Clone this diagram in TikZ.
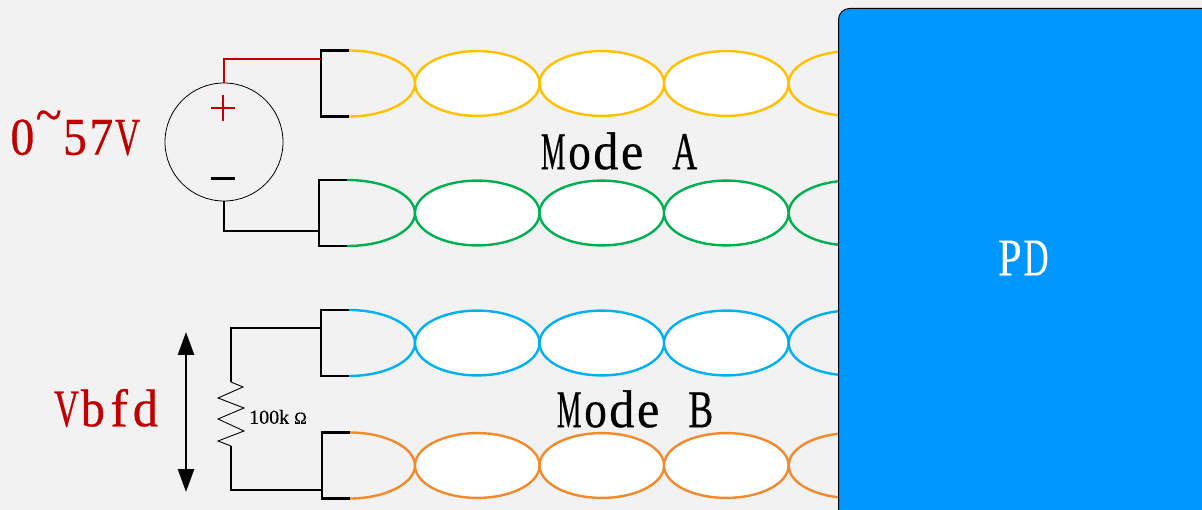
\documentclass[tikz,border=0pt]{standalone}
\usepackage{graphicx}
\usepackage{fontspec}
\setmainfont{Liberation Serif}
\newfontfamily\heavy{Liberation Serif}[FakeBold=0.6]
\newfontfamily\semiheavy{Liberation Serif}[FakeBold=0.35]
\usetikzlibrary{arrows.meta}
\definecolor{bgc}{HTML}{F2F2F2}
\definecolor{redc}{HTML}{C00000}
\definecolor{pdblue}{HTML}{0096FF}
\definecolor{cyellow}{HTML}{FFC000}
\definecolor{cgreen}{HTML}{00B050}
\definecolor{cblue}{HTML}{00B0F0}
\definecolor{corange}{HTML}{F28A2C}
\newcommand{\gl}[2]{\makebox[26.3pt][c]{\scalebox{#1}[1]{#2}}}
\tikzset{
  wire/.style={line width=2.7pt,black,line cap=butt,line join=miter},
  redwire/.style={line width=2.9pt,redc,line join=miter},
  thinline/.style={line width=0.9pt,black,line join=miter},
  strand/.style={line width=2.4pt},
  bigt/.style={inner sep=0pt,font=\heavy\fontsize{53}{53}\selectfont},
  redt/.style={bigt,text=redc},
}
\newcommand{\twisted}[5]{% name, color, y-centre, bracket x, half height
  \coordinate (#1t) at (#4+28,#3-#5);
  \coordinate (#1b) at (#4+28,#3+#5);
  \coordinate (#1ct) at (#4,#3-#5);
  \coordinate (#1cb) at (#4,#3+#5);
  \coordinate (#1x) at (415,#3);
  \draw[strand,#2] (#1t) .. controls (385,#3-#5) and (415,#3-18) .. (#1x) .. controls (415,#3+18) and (385,#3+#5) .. (#1b);
  \foreach \cx in {477.3,601.8,726.3}{
    \draw[strand,#2,fill=white] (\cx,#3) ellipse [x radius=62.3,y radius=32.4];
  }
  \draw[strand,#2] (851,#3) ellipse [x radius=62.3,y radius=32.4];
  \draw[wire] (#1t) -- (#1ct) -- (#1cb) -- (#1b);
}
\begin{document}
\begin{tikzpicture}[x=1pt,y=-1pt]
\useasboundingbox (0,0) rectangle (1202,510);
\fill[bgc] (0,0) rectangle (1202,510);

\twisted{a}{cyellow}{83.5}{321}{33}
\twisted{b}{cgreen}{213}{319}{33}
\twisted{c}{cblue}{343}{321}{33}
\twisted{d}{corange}{465.5}{322}{33}

\draw[black,line width=1pt,fill=pdblue,rounded corners=11pt] (838.5,8.5) rectangle (1230,540);
\node[inner sep=0pt,text=white,font=\semiheavy\fontsize{53}{53}\selectfont] (pd) at (1023,258) {\gl{.8}{P}\gl{.65}{D}};

% voltage source
\node[circle,draw=black,line width=0.8pt,minimum size=118pt,inner sep=0pt] (src) at (224,142) {};
\coordinate (rc) at (224,59);
\coordinate (ra) at (321,59);
\coordinate (bc) at (224,231);
\coordinate (ba) at (319,231);
\draw[redwire] (src.north) -- (rc) -- (ra);
\draw[wire] (src.south) -- (bc) -- (ba);
\coordinate (pl) at (211,108); \coordinate (pr) at (235,108);
\coordinate (pt) at (223,95);  \coordinate (pb) at (223,121);
\draw[redwire] (pl) -- (pr) (pt) -- (pb);
\coordinate (ml) at (211,179); \coordinate (mr) at (235,179);
\draw[line width=3pt,black] (ml) -- (mr);

\node[redt] (volt) at (75,133) {\gl{.9}{0}\gl{.9}{\raisebox{.42em}{\textasciitilde}}\gl{.9}{5}\gl{.9}{7}\gl{.65}{V}};
\node[redt] (vbfd) at (106,408) {\gl{.65}{V}\gl{.9}{b}\gl{1}{f}\gl{.95}{d}};
\node[bigt] (ma) at (619,151) {\gl{.52}{M}\gl{.85}{o}\gl{.95}{d}\gl{.95}{e}\gl{1}{\ }\gl{.65}{A}};
\node[bigt] (mb) at (635,409) {\gl{.52}{M}\gl{.85}{o}\gl{.95}{d}\gl{.95}{e}\gl{1}{\ }\gl{.7}{B}};

% resistor
\coordinate (r1) at (321,328);
\coordinate (r2) at (231,328);
\coordinate (r3) at (231,382);
\coordinate (r4) at (231,446);
\coordinate (r5) at (231,490);
\coordinate (r6) at (322,490);
\draw[wire] (r1) -- (r2) -- (r3);
\draw[wire] (r4) -- (r5) -- (r6);
\draw[thinline] (r3) -- (243,387) -- (218,398) -- (244,408) -- (218,419) -- (244,431) -- (218,441) -- (r4);
\node[inner sep=0pt,font=\semiheavy\fontsize{20}{20}\selectfont] (rv) at (278,417) {100k\hspace{5pt}\fontsize{17}{17}\selectfont Ω};

% Vbfd arrow
\coordinate (at) at (186,332);
\coordinate (ab) at (186,492);
\draw[line width=2.7pt,{Triangle[length=23pt,width=16pt]}-{Triangle[length=23pt,width=16pt]}] (at) -- (ab);
\end{tikzpicture}
\end{document}
